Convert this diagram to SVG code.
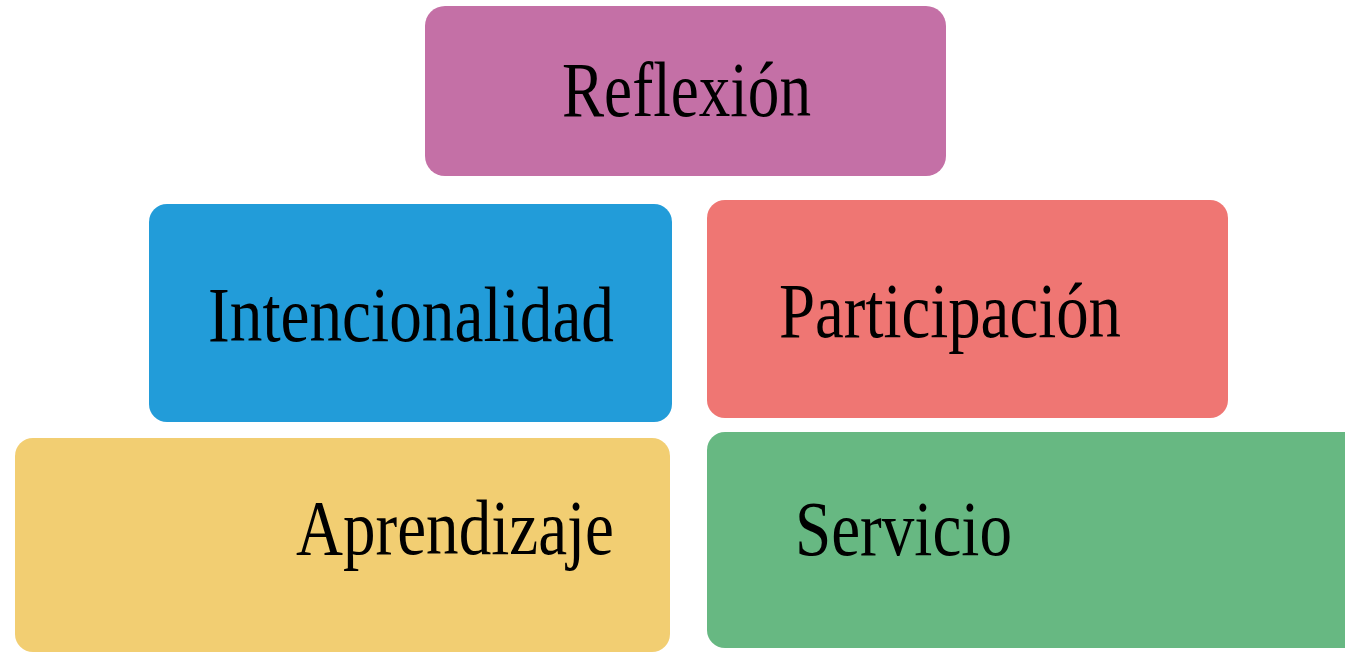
<svg xmlns="http://www.w3.org/2000/svg" width="1345" height="653" viewBox="0 0 1345 653">
<style>
.lbl{font-family:"Liberation Serif","Times New Roman",serif;font-size:78px;fill:#000;}
</style>
<rect width="1345" height="653" fill="#fff"/>
<g id="reflexion">
<rect x="425" y="6" width="521" height="170" rx="20" fill="#C470A6"/>
<text class="lbl" x="562" y="116" textLength="249" lengthAdjust="spacingAndGlyphs">Reflexión</text>
</g>
<g id="intencionalidad">
<rect x="149" y="204" width="523" height="218" rx="18" fill="#229CD9"/>
<text class="lbl" x="208" y="341" textLength="406" lengthAdjust="spacingAndGlyphs">Intencionalidad</text>
</g>
<g id="participacion">
<rect x="707" y="200" width="521" height="218" rx="18" fill="#EF7673"/>
<text class="lbl" x="779" y="337" textLength="342" lengthAdjust="spacingAndGlyphs">Participación</text>
</g>
<g id="aprendizaje">
<rect x="15" y="438" width="655" height="214" rx="18" fill="#F2CE72"/>
<text class="lbl" x="296" y="554" textLength="318" lengthAdjust="spacingAndGlyphs">Aprendizaje</text>
</g>
<g id="servicio">
<rect x="707" y="432" width="660" height="216" rx="18" fill="#67B882"/>
<text class="lbl" x="795" y="555" textLength="217" lengthAdjust="spacingAndGlyphs">Servicio</text>
</g>
<g id="connectors"></g>
</svg>
